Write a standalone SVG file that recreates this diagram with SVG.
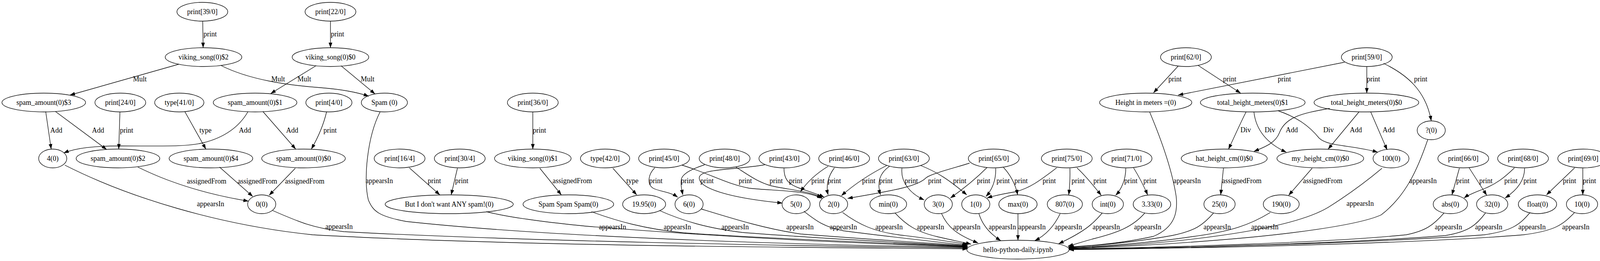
<svg xmlns="http://www.w3.org/2000/svg" width="4124" height="667" viewBox="0 0 4124 667">
<style>
text{font-family:"Liberation Serif","Times New Roman",serif;font-size:18px;text-anchor:middle;fill:#000}
.node ellipse{fill:none;stroke:#000;stroke-width:1.33}
#edges path{fill:none;stroke:#000;stroke-width:1.33;marker-end:url(#a)}
</style>
<defs>
<marker id="a" markerWidth="14" markerHeight="10" refX="13" refY="4.67" orient="auto" markerUnits="userSpaceOnUse"><path d="M0,0L13.3,4.67L0,9.33z" fill="#000"/></marker>
</defs>
<rect width="4124" height="667" fill="#fff"/>
<g id="edges">
<path d="M519,54L520,122"/><text x="538" y="93">print</text>
<path d="M846,54L846,122"/><text x="864" y="93">print</text>
<path d="M458,164L179,243"/><text x="358" y="208">Mult</text>
<path d="M565,167C640,205 740,218 820,224C870,228 910,234 944,246"/><text x="712" y="208">Mult</text>
<path d="M809,168L693,239"/><text x="779" y="208">Mult</text>
<path d="M873,168L960,240"/><text x="941" y="208">Mult</text>
<path d="M117,285L131,381"/><text x="144" y="339">Add</text>
<path d="M142,285L273,382"/><text x="251" y="339">Add</text>
<path d="M307,286L304,381"/><text x="324" y="339">print</text>
<path d="M473,285L527,381"/><text x="526" y="339">type</text>
<path d="M635,285C615,320 580,350 520,365C480,375 420,373 312,373C240,373 195,378 163,391"/><text x="627" y="339">Add</text>
<path d="M673,285L757,381"/><text x="748" y="339">Add</text>
<path d="M836,286C828,320 815,350 797,381"/><text x="845" y="339">print</text>
<path d="M353,427C430,465 520,495 636,514"/><text x="529" y="469">assignedFrom</text>
<path d="M562,427L647,502"/><text x="659" y="469">assignedFrom</text>
<path d="M756,430L689,499"/><text x="780" y="469">assignedFrom</text>
<path d="M1364,286L1364,381"/><text x="1381" y="339">print</text>
<path d="M1048,429L1126,498"/><text x="1112" y="468">print</text>
<path d="M1171,430L1155,498"/><text x="1182" y="468">print</text>
<path d="M1382,430L1437,498"/><text x="1465" y="468">assignedFrom</text>
<path d="M1569,430L1630,498"/><text x="1619" y="468">type</text>
<path d="M1676,429C1660,445 1655,470 1672,481C1690,490 1715,490 1735,504"/><text x="1679" y="468">print</text>
<path d="M1804,421C1770,432 1745,445 1744,460C1742,475 1746,488 1748,498"/><text x="1760" y="468">print</text>
<path d="M1958,421C1880,435 1790,430 1790,455C1790,480 1860,505 2003,519"/><text x="1810" y="468">print</text>
<path d="M1746,422C1820,445 1860,470 1918,481C1980,488 2060,485 2105,507"/><text x="1908" y="468">print</text>
<path d="M1884,427C1920,450 1940,465 1975,475C2020,485 2070,488 2104,505"/><text x="1987" y="468">print</text>
<path d="M2007,430C2007,455 2015,470 2047,481C2070,489 2090,495 2110,504"/><text x="2037" y="468">print</text>
<path d="M2120,425C2095,440 2070,460 2049,490"/><text x="2094" y="468">print</text>
<path d="M2136,429C2120,450 2114,475 2120,498"/><text x="2136" y="468">print</text>
<path d="M2270,423C2240,438 2200,460 2154,500"/><text x="2224" y="468">print</text>
<path d="M2277,425C2255,440 2243,462 2254,498"/><text x="2268" y="468">print</text>
<path d="M2309,430C2305,465 2330,495 2366,511"/><text x="2333" y="468">print</text>
<path d="M2357,423C2400,440 2430,460 2475,498"/><text x="2457" y="468">print</text>
<path d="M2482,417C2440,430 2380,445 2370,455C2350,475 2300,485 2170,507"/><text x="2393" y="468">print</text>
<path d="M2527,428C2500,455 2470,480 2433,506"/><text x="2518" y="468">print</text>
<path d="M2549,430C2550,460 2540,485 2524,502"/><text x="2568" y="468">print</text>
<path d="M2569,428C2585,445 2600,470 2605,498"/><text x="2614" y="468">print</text>
<path d="M2705,429C2670,455 2640,480 2600,490C2570,495 2545,500 2527,506"/><text x="2686" y="468">print</text>
<path d="M2739,430C2740,460 2738,480 2736,498"/><text x="2760" y="468">print</text>
<path d="M2757,429C2780,450 2800,475 2819,499"/><text x="2816" y="468">print</text>
<path d="M2882,430C2882,460 2870,485 2856,499"/><text x="2895" y="468">print</text>
<path d="M2902,429C2915,450 2928,475 2938,498"/><text x="2944" y="468">print</text>
<path d="M3016,169L2953,237"/><text x="3008" y="208">print</text>
<path d="M3067,167L3176,238"/><text x="3148" y="208">print</text>
<path d="M3442,159L3016,243"/><text x="3288" y="208">print</text>
<path d="M3499,170L3499,238"/><text x="3516" y="208">print</text>
<path d="M3542,162C3600,190 3650,230 3664,309"/><text x="3637" y="208">print</text>
<path d="M3190,286C3175,315 3160,350 3145,381"/><text x="3189" y="338">Div</text>
<path d="M3210,286C3215,330 3240,365 3293,389"/><text x="3251" y="338">Div</text>
<path d="M3272,283C3320,300 3350,320 3377,353C3400,375 3460,370 3527,389"/><text x="3401" y="338">Div</text>
<path d="M3404,277C3330,290 3290,300 3275,340C3265,365 3240,375 3210,387"/><text x="3307" y="338">Add</text>
<path d="M3479,286L3400,381"/><text x="3471" y="338">Add</text>
<path d="M3509,286L3551,383"/><text x="3555" y="338">Add</text>
<path d="M3132,430L3125,498"/><text x="3179" y="468">assignedFrom</text>
<path d="M3359,430L3299,499"/><text x="3386" y="468">assignedFrom</text>
<path d="M3736,430L3717,498"/><text x="3745" y="468">print</text>
<path d="M3761,429L3806,499"/><text x="3804" y="468">print</text>
<path d="M3877,429C3850,455 3830,470 3800,482C3780,490 3760,497 3748,506"/><text x="3868" y="468">print</text>
<path d="M3903,430C3903,460 3885,485 3853,506"/><text x="3917" y="468">print</text>
<path d="M4031,429L3959,498"/><text x="4018" y="468">print</text>
<path d="M4052,430L4052,498"/><text x="4069" y="468">print</text>
<path d="M166,422C330,505 560,575 800,600C1300,628 2000,632 2477,636"/><text x="539" y="527">appearsIn</text>
<path d="M698,538C760,565 800,583 880,592C1300,615 2000,628 2477,634"/><text x="868" y="585">appearsIn</text>
<path d="M973,286C940,350 930,460 943,511C955,540 970,553 1040,566C1400,605 2000,625 2477,632"/><text x="971" y="468">appearsIn</text>
<path d="M1245,541C1300,555 1380,566 1500,578C1900,610 2200,622 2477,631"/><text x="1568" y="586">appearsIn</text>
<path d="M1514,541C1580,565 1650,585 1750,595C2000,612 2300,622 2477,630"/><text x="1734" y="586">appearsIn</text>
<path d="M1688,538C1750,565 1810,583 1900,594C2100,610 2350,622 2477,629"/><text x="1882" y="586">appearsIn</text>
<path d="M1795,534C1880,560 1960,585 2050,598C2250,614 2400,622 2477,628"/><text x="2048" y="586">appearsIn</text>
<path d="M2058,540C2090,565 2110,580 2160,590C2300,608 2400,618 2476,627"/><text x="2159" y="586">appearsIn</text>
<path d="M2157,543C2200,575 2240,592 2300,600C2380,610 2430,616 2478,625"/><text x="2276" y="586">appearsIn</text>
<path d="M2291,544C2320,575 2345,592 2400,605C2430,612 2460,618 2486,624"/><text x="2382" y="586">appearsIn</text>
<path d="M2410,545C2425,580 2450,600 2504,621"/><text x="2475" y="586">appearsIn</text>
<path d="M2506,546C2515,575 2535,598 2562,615"/><text x="2566" y="586">appearsIn</text>
<path d="M2606,546L2606,614"/><text x="2642" y="586">appearsIn</text>
<path d="M2714,546C2700,575 2680,600 2649,615"/><text x="2735" y="586">appearsIn</text>
<path d="M2822,544C2800,570 2780,590 2710,623"/><text x="2832" y="586">appearsIn</text>
<path d="M2931,544C2900,580 2860,595 2800,610C2770,618 2750,625 2734,629"/><text x="2938" y="586">appearsIn</text>
<path d="M2943,286C2970,350 3000,430 3011,502C3015,540 3010,580 2953,604C2880,620 2800,628 2735,631"/><text x="3039" y="468">appearsIn</text>
<path d="M3107,544C3080,575 3060,590 3000,602C2900,620 2800,628 2736,632"/><text x="3116" y="586">appearsIn</text>
<path d="M3252,543C3200,575 3150,592 3050,605C2950,620 2820,630 2736,633"/><text x="3238" y="586">appearsIn</text>
<path d="M3538,430C3490,470 3440,505 3400,530C3300,590 3000,625 2736,634"/><text x="3482" y="526">appearsIn</text>
<path d="M3655,357C3630,430 3600,500 3536,549C3480,575 3300,600 3100,615C2950,627 2800,633 2736,635"/><text x="3643" y="468">appearsIn</text>
<path d="M3697,544C3670,575 3650,590 3600,600C3400,620 3000,632 2736,636"/><text x="3708" y="586">appearsIn</text>
<path d="M3803,544C3780,575 3760,592 3700,602C3450,622 3000,634 2736,637"/><text x="3811" y="586">appearsIn</text>
<path d="M3917,543C3890,575 3870,590 3800,600C3500,622 3000,634 2736,637"/><text x="3922" y="586">appearsIn</text>
<path d="M4031,543C4000,575 3980,590 3900,600C3600,625 3000,635 2736,638"/><text x="4034" y="586">appearsIn</text>
</g>
<g id="print39" class="node"><ellipse cx="518" cy="30" rx="65" ry="24"/><text x="518" y="36">print[39/0]</text></g>
<g id="print22" class="node"><ellipse cx="846" cy="30" rx="65" ry="24"/><text x="846" y="36">print[22/0]</text></g>
<g id="viking2" class="node"><ellipse cx="521" cy="146" rx="98" ry="24"/><text x="521" y="152">viking_song(0)$2</text></g>
<g id="viking0" class="node"><ellipse cx="846" cy="146" rx="98" ry="24"/><text x="846" y="152">viking_song(0)$0</text></g>
<g id="print62" class="node"><ellipse cx="3036" cy="146" rx="65" ry="24"/><text x="3036" y="152">print[62/0]</text></g>
<g id="print59" class="node"><ellipse cx="3499" cy="146" rx="65" ry="24"/><text x="3499" y="152">print[59/0]</text></g>
<g id="spam3" class="node"><ellipse cx="112" cy="262" rx="107" ry="24"/><text x="112" y="268">spam_amount(0)$3</text></g>
<g id="print24" class="node"><ellipse cx="308" cy="262" rx="65" ry="24"/><text x="308" y="268">print[24/0]</text></g>
<g id="type41" class="node"><ellipse cx="459" cy="262" rx="63" ry="24"/><text x="459" y="268">type[41/0]</text></g>
<g id="spam1" class="node"><ellipse cx="653" cy="262" rx="107" ry="24"/><text x="653" y="268">spam_amount(0)$1</text></g>
<g id="print4" class="node"><ellipse cx="842" cy="262" rx="59" ry="24"/><text x="842" y="268">print[4/0]</text></g>
<g id="spam" class="node"><ellipse cx="984" cy="262" rx="59" ry="24"/><text x="984" y="268">Spam (0)</text></g>
<g id="print36" class="node"><ellipse cx="1364" cy="262" rx="65" ry="24"/><text x="1364" y="268">print[36/0]</text></g>
<g id="height" class="node"><ellipse cx="2933" cy="262" rx="118" ry="24"/><text x="2933" y="268">Height in meters =(0)</text></g>
<g id="thm1" class="node"><ellipse cx="3207" cy="262" rx="134" ry="24"/><text x="3207" y="268">total_height_meters(0)$1</text></g>
<g id="thm0" class="node"><ellipse cx="3498" cy="262" rx="134" ry="24"/><text x="3498" y="268">total_height_meters(0)$0</text></g>
<g id="q" class="node"><ellipse cx="3664" cy="333" rx="36" ry="24"/><text x="3664" y="339">?(0)</text></g>
<g id="n4" class="node"><ellipse cx="135" cy="405" rx="36" ry="24"/><text x="135" y="411">4(0)</text></g>
<g id="spam2" class="node"><ellipse cx="302" cy="405" rx="107" ry="24"/><text x="302" y="411">spam_amount(0)$2</text></g>
<g id="spam4" class="node"><ellipse cx="540" cy="405" rx="107" ry="24"/><text x="540" y="411">spam_amount(0)$4</text></g>
<g id="spam0" class="node"><ellipse cx="777" cy="405" rx="107" ry="24"/><text x="777" y="411">spam_amount(0)$0</text></g>
<g id="print16" class="node"><ellipse cx="1023" cy="405" rx="65" ry="24"/><text x="1023" y="411">print[16/4]</text></g>
<g id="print30" class="node"><ellipse cx="1177" cy="405" rx="65" ry="24"/><text x="1177" y="411">print[30/4]</text></g>
<g id="viking1" class="node"><ellipse cx="1364" cy="405" rx="98" ry="24"/><text x="1364" y="411">viking_song(0)$1</text></g>
<g id="type42" class="node"><ellipse cx="1549" cy="405" rx="63" ry="24"/><text x="1549" y="411">type[42/0]</text></g>
<g id="print45" class="node"><ellipse cx="1700" cy="405" rx="65" ry="24"/><text x="1700" y="411">print[45/0]</text></g>
<g id="print48" class="node"><ellipse cx="1855" cy="405" rx="65" ry="24"/><text x="1855" y="411">print[48/0]</text></g>
<g id="print43" class="node"><ellipse cx="2008" cy="405" rx="65" ry="24"/><text x="2008" y="411">print[43/0]</text></g>
<g id="print46" class="node"><ellipse cx="2161" cy="405" rx="65" ry="24"/><text x="2161" y="411">print[46/0]</text></g>
<g id="print63" class="node"><ellipse cx="2314" cy="405" rx="65" ry="24"/><text x="2314" y="411">print[63/0]</text></g>
<g id="print65" class="node"><ellipse cx="2544" cy="405" rx="65" ry="24"/><text x="2544" y="411">print[65/0]</text></g>
<g id="print75" class="node"><ellipse cx="2731" cy="405" rx="65" ry="24"/><text x="2731" y="411">print[75/0]</text></g>
<g id="print71" class="node"><ellipse cx="2884" cy="405" rx="65" ry="24"/><text x="2884" y="411">print[71/0]</text></g>
<g id="hat" class="node"><ellipse cx="3134" cy="405" rx="110" ry="24"/><text x="3134" y="411">hat_height_cm(0)$0</text></g>
<g id="my" class="node"><ellipse cx="3380" cy="405" rx="111" ry="24"/><text x="3380" y="411">my_height_cm(0)$0</text></g>
<g id="n100" class="node"><ellipse cx="3561" cy="405" rx="46" ry="24"/><text x="3561" y="411">100(0)</text></g>
<g id="print66" class="node"><ellipse cx="3746" cy="405" rx="65" ry="24"/><text x="3746" y="411">print[66/0]</text></g>
<g id="print68" class="node"><ellipse cx="3899" cy="405" rx="65" ry="24"/><text x="3899" y="411">print[68/0]</text></g>
<g id="print69" class="node"><ellipse cx="4053" cy="405" rx="65" ry="24"/><text x="4053" y="411">print[69/0]</text></g>
<g id="n0" class="node"><ellipse cx="670" cy="522" rx="36" ry="24"/><text x="670" y="528">0(0)</text></g>
<g id="but" class="node"><ellipse cx="1150" cy="522" rx="164" ry="24"/><text x="1150" y="528">But I don't want ANY spam!(0)</text></g>
<g id="sss" class="node"><ellipse cx="1455" cy="522" rx="116" ry="24"/><text x="1455" y="528">Spam Spam Spam(0)</text></g>
<g id="n1995" class="node"><ellipse cx="1649" cy="522" rx="55" ry="24"/><text x="1649" y="528">19.95(0)</text></g>
<g id="n6" class="node"><ellipse cx="1764" cy="522" rx="36" ry="24"/><text x="1764" y="528">6(0)</text></g>
<g id="n5" class="node"><ellipse cx="2038" cy="522" rx="36" ry="24"/><text x="2038" y="528">5(0)</text></g>
<g id="n2" class="node"><ellipse cx="2134" cy="522" rx="36" ry="24"/><text x="2134" y="528">2(0)</text></g>
<g id="min" class="node"><ellipse cx="2274" cy="522" rx="47" ry="24"/><text x="2274" y="528">min(0)</text></g>
<g id="n3" class="node"><ellipse cx="2402" cy="522" rx="36" ry="24"/><text x="2402" y="528">3(0)</text></g>
<g id="n1" class="node"><ellipse cx="2498" cy="522" rx="36" ry="24"/><text x="2498" y="528">1(0)</text></g>
<g id="max" class="node"><ellipse cx="2606" cy="522" rx="49" ry="24"/><text x="2606" y="528">max(0)</text></g>
<g id="n807" class="node"><ellipse cx="2726" cy="522" rx="45" ry="24"/><text x="2726" y="528">807(0)</text></g>
<g id="int" class="node"><ellipse cx="2836" cy="522" rx="40" ry="24"/><text x="2836" y="528">int(0)</text></g>
<g id="n333" class="node"><ellipse cx="2949" cy="522" rx="48" ry="24"/><text x="2949" y="528">3.33(0)</text></g>
<g id="n25" class="node"><ellipse cx="3122" cy="522" rx="40" ry="24"/><text x="3122" y="528">25(0)</text></g>
<g id="n190" class="node"><ellipse cx="3280" cy="522" rx="46" ry="24"/><text x="3280" y="528">190(0)</text></g>
<g id="abs" class="node"><ellipse cx="3713" cy="522" rx="44" ry="24"/><text x="3713" y="528">abs(0)</text></g>
<g id="n32" class="node"><ellipse cx="3820" cy="522" rx="40" ry="24"/><text x="3820" y="528">32(0)</text></g>
<g id="float" class="node"><ellipse cx="3936" cy="522" rx="49" ry="24"/><text x="3936" y="528">float(0)</text></g>
<g id="n10" class="node"><ellipse cx="4050" cy="522" rx="40" ry="24"/><text x="4050" y="528">10(0)</text></g>
<g id="hello" class="node"><ellipse cx="2606" cy="638" rx="131" ry="24"/><text x="2606" y="644">hello-python-daily.ipynb</text></g>
</svg>
